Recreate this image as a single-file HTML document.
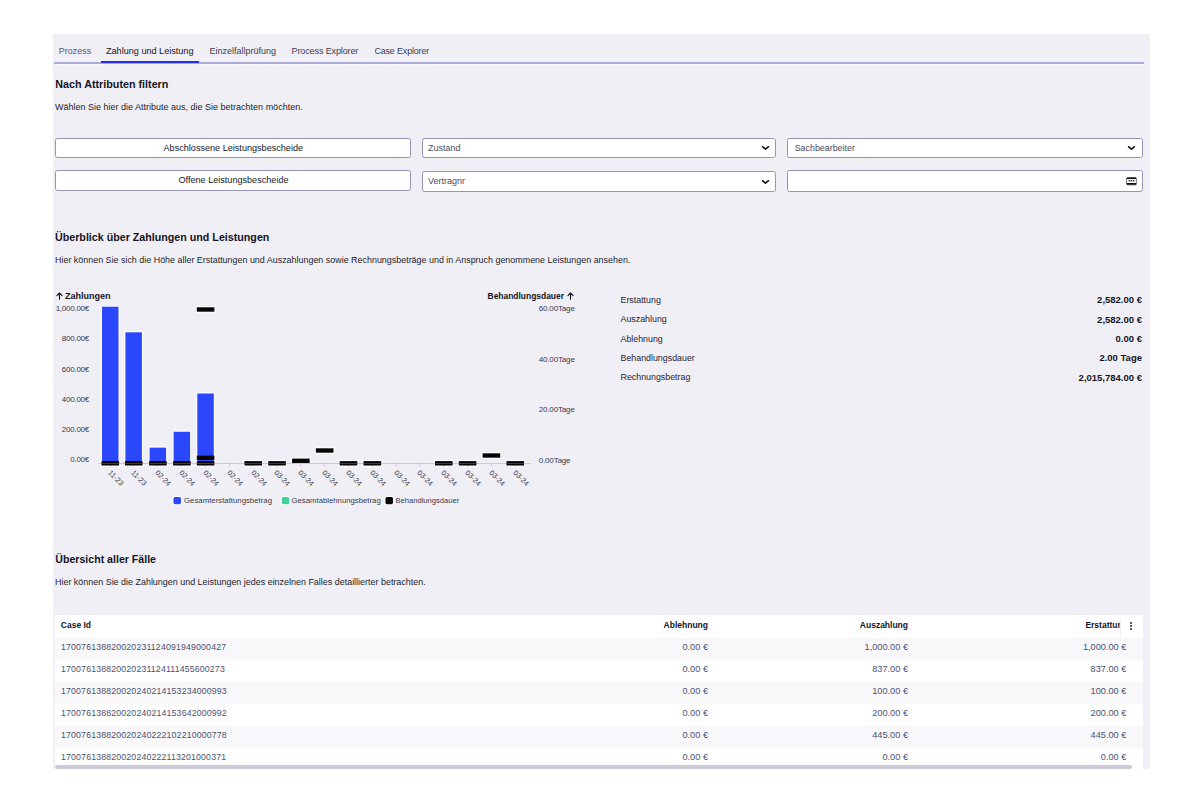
<!DOCTYPE html>
<html><head><meta charset="utf-8"><style>
html,body{margin:0;padding:0;background:#fff;width:1200px;height:800px;overflow:hidden;position:relative}
body{font-family:"Liberation Sans",sans-serif}
.t{position:absolute;line-height:1;white-space:nowrap}
</style></head><body>
<div style="position:absolute;left:52.5px;top:33.75px;width:1097px;height:735px;background:#f0eff5"></div>
<div class="t" style="left:58.70px;top:47.35px;font-size:9px;font-weight:400;color:#5a5a6c;">Prozess</div>
<div class="t" style="left:106.00px;top:47.27px;font-size:9.1px;font-weight:400;color:#14141f;">Zahlung und Leistung</div>
<div class="t" style="left:209.40px;top:47.35px;font-size:9px;font-weight:400;color:#3e3e50;">Einzelfallprüfung</div>
<div class="t" style="left:291.60px;top:47.35px;font-size:9px;font-weight:400;color:#3e3e50;letter-spacing:-0.12px;">Process Explorer</div>
<div class="t" style="left:374.40px;top:47.35px;font-size:9px;font-weight:400;color:#3e3e50;letter-spacing:-0.18px;">Case Explorer</div>
<div style="position:absolute;left:54px;top:62.2px;width:1090px;height:1.4px;background:#abacd3"></div>
<div style="position:absolute;left:54px;top:63.6px;width:1090px;height:0.9px;background:#f8f8fb"></div>
<div style="position:absolute;left:101px;top:60.8px;width:98.3px;height:2px;background:#1f2bf0"></div>
<div class="t" style="left:55.30px;top:78.86px;font-size:10.75px;font-weight:700;color:#14141f;">Nach Attributen filtern</div>
<div class="t" style="left:55.00px;top:103.05px;font-size:9px;font-weight:400;color:#1e1e2c;">Wählen Sie hier die Attribute aus, die Sie betrachten möchten.</div>
<div style="position:absolute;left:55px;top:138px;width:356px;height:20px;background:#fff;border:1.3px solid #9494b4;border-radius:2.5px;box-sizing:border-box"></div>
<div style="position:absolute;left:55px;top:170.3px;width:356px;height:20.4px;background:#fff;border:1.3px solid #9494b4;border-radius:2.5px;box-sizing:border-box"></div>
<div style="position:absolute;left:422px;top:138px;width:354px;height:20px;background:#fff;border:1.3px solid #9494b4;border-radius:2.5px;box-sizing:border-box"></div>
<div style="position:absolute;left:422px;top:171.3px;width:354px;height:20.5px;background:#fff;border:1.3px solid #9494b4;border-radius:2.5px;box-sizing:border-box"></div>
<div style="position:absolute;left:787px;top:138px;width:356px;height:20px;background:#fff;border:1.3px solid #9494b4;border-radius:2.5px;box-sizing:border-box"></div>
<div style="position:absolute;left:787px;top:170.2px;width:356px;height:21.8px;background:#fff;border:1.3px solid #9494b4;border-radius:2.5px;box-sizing:border-box"></div>
<div class="t" style="left:-66.70px;width:600px;text-align:center;top:143.67px;font-size:9.1px;font-weight:400;color:#16161f;">Abschlossene Leistungsbescheide</div>
<div class="t" style="left:-66.50px;width:600px;text-align:center;top:175.76px;font-size:9.1px;font-weight:400;color:#16161f;">Offene Leistungsbescheide</div>
<div class="t" style="left:428.00px;top:144.35px;font-size:9px;font-weight:400;color:#4a4a5c;">Zustand</div>
<div class="t" style="left:428.00px;top:176.85px;font-size:9px;font-weight:400;color:#4a4a5c;">Vertragnr</div>
<div class="t" style="left:794.70px;top:144.44px;font-size:8.9px;font-weight:400;color:#4a4a5c;">Sachbearbeiter</div>
<svg style="position:absolute;left:760.9px;top:145.4px" width="9" height="6" viewBox="0 0 9 6"><path d="M1.5 1.7 L4.5 4.2 L7.5 1.7" fill="none" stroke="#0d0d1a" stroke-width="1.5" stroke-linecap="round" stroke-linejoin="round"/></svg>
<svg style="position:absolute;left:1127.0px;top:145.4px" width="9" height="6" viewBox="0 0 9 6"><path d="M1.5 1.7 L4.5 4.2 L7.5 1.7" fill="none" stroke="#0d0d1a" stroke-width="1.5" stroke-linecap="round" stroke-linejoin="round"/></svg>
<svg style="position:absolute;left:760.9px;top:178.9px" width="9" height="6" viewBox="0 0 9 6"><path d="M1.5 1.7 L4.5 4.2 L7.5 1.7" fill="none" stroke="#0d0d1a" stroke-width="1.5" stroke-linecap="round" stroke-linejoin="round"/></svg>
<svg style="position:absolute;left:1126px;top:177px" width="11" height="9" viewBox="0 0 11 9"><rect x="0.6" y="0.7" width="9.8" height="7.2" rx="1.3" fill="none" stroke="#444" stroke-width="0.7"/><rect x="0.6" y="0.6" width="9.8" height="1.5" rx="0.6" fill="#111"/><rect x="2.6" y="3" width="1.5" height="1.4" fill="#333"/><rect x="4.75" y="3" width="1.5" height="1.4" fill="#333"/><rect x="6.9" y="3" width="1.5" height="1.4" fill="#333"/><rect x="0.6" y="6" width="9.8" height="1.7" rx="0.7" fill="#111"/></svg>
<div class="t" style="left:55.00px;top:232.31px;font-size:10.7px;font-weight:700;color:#14141f;">Überblick über Zahlungen und Leistungen</div>
<div class="t" style="left:55.00px;top:256.41px;font-size:8.93px;font-weight:400;color:#1e1e2c;">Hier können Sie sich die Höhe aller Erstattungen und Auszahlungen sowie Rechnungsbeträge und in Anspruch genommene Leistungen ansehen.</div>
<div class="t" style="left:65.00px;top:291.95px;font-size:9px;font-weight:700;color:#14141f;">Zahlungen</div>
<div class="t" style="right:636.00px;top:292.42px;font-size:8.45px;font-weight:700;color:#14141f;">Behandlungsdauer</div>
<svg style="position:absolute;left:56px;top:291.8px" width="7" height="8" viewBox="0 0 7 8"><path d="M3.5 7.3 V1.2 M0.9 3.6 L3.5 1 L6.1 3.6" fill="none" stroke="#14141f" stroke-width="1.1" stroke-linecap="round" stroke-linejoin="round"/></svg>
<svg style="position:absolute;left:566.8px;top:291.8px" width="7" height="8" viewBox="0 0 7 8"><path d="M3.5 7.3 V1.2 M0.9 3.6 L3.5 1 L6.1 3.6" fill="none" stroke="#14141f" stroke-width="1.1" stroke-linecap="round" stroke-linejoin="round"/></svg>
<div class="t" style="right:1111.00px;top:305.20px;font-size:8px;font-weight:400;color:#3a3a4c;letter-spacing:-0.25px;">1,000.00€</div>
<div class="t" style="right:1111.00px;top:335.45px;font-size:8px;font-weight:400;color:#3a3a4c;letter-spacing:-0.25px;">800.00€</div>
<div class="t" style="right:1111.00px;top:365.70px;font-size:8px;font-weight:400;color:#3a3a4c;letter-spacing:-0.25px;">600.00€</div>
<div class="t" style="right:1111.00px;top:395.95px;font-size:8px;font-weight:400;color:#3a3a4c;letter-spacing:-0.25px;">400.00€</div>
<div class="t" style="right:1111.00px;top:426.20px;font-size:8px;font-weight:400;color:#3a3a4c;letter-spacing:-0.25px;">200.00€</div>
<div class="t" style="right:1111.00px;top:456.45px;font-size:8px;font-weight:400;color:#3a3a4c;letter-spacing:-0.25px;">0.00€</div>
<div class="t" style="left:538.70px;top:305.20px;font-size:8px;font-weight:400;color:#3a3a4c;letter-spacing:-0.15px;">60.00Tage</div>
<div class="t" style="left:538.70px;top:355.70px;font-size:8px;font-weight:400;color:#3a3a4c;letter-spacing:-0.15px;">40.00Tage</div>
<div class="t" style="left:538.70px;top:406.20px;font-size:8px;font-weight:400;color:#3a3a4c;letter-spacing:-0.15px;">20.00Tage</div>
<div class="t" style="left:538.70px;top:456.70px;font-size:8px;font-weight:400;color:#3a3a4c;letter-spacing:-0.15px;">0.00Tage</div>
<svg style="position:absolute;left:0;top:0" width="1200" height="800" viewBox="0 0 1200 800">
<rect x="100.90" y="305.60" width="18.70" height="158.80" fill="#ffffff"/>
<rect x="124.30" y="331.20" width="18.70" height="133.20" fill="#ffffff"/>
<rect x="148.50" y="446.50" width="18.70" height="17.90" fill="#ffffff"/>
<rect x="172.50" y="430.65" width="18.70" height="33.75" fill="#ffffff"/>
<rect x="196.20" y="392.40" width="18.70" height="72.00" fill="#ffffff"/>
<rect x="100.40" y="460.00" width="19.80" height="6.60" fill="#ffffff"/>
<rect x="123.80" y="460.00" width="19.80" height="6.60" fill="#ffffff"/>
<rect x="148.00" y="460.00" width="19.80" height="6.60" fill="#ffffff"/>
<rect x="172.00" y="460.00" width="19.80" height="6.60" fill="#ffffff"/>
<rect x="195.70" y="306.20" width="19.80" height="6.60" fill="#ffffff"/>
<rect x="195.70" y="454.50" width="19.80" height="6.60" fill="#ffffff"/>
<rect x="195.70" y="460.00" width="19.80" height="6.60" fill="#ffffff"/>
<rect x="243.32" y="460.00" width="19.80" height="6.60" fill="#ffffff"/>
<rect x="267.14" y="460.00" width="19.80" height="6.60" fill="#ffffff"/>
<rect x="290.96" y="457.50" width="19.80" height="6.60" fill="#ffffff"/>
<rect x="314.78" y="447.20" width="19.80" height="6.60" fill="#ffffff"/>
<rect x="338.60" y="460.00" width="19.80" height="6.60" fill="#ffffff"/>
<rect x="362.42" y="460.00" width="19.80" height="6.60" fill="#ffffff"/>
<rect x="433.88" y="460.00" width="19.80" height="6.60" fill="#ffffff"/>
<rect x="457.70" y="460.00" width="19.80" height="6.60" fill="#ffffff"/>
<rect x="481.52" y="452.20" width="19.80" height="6.60" fill="#ffffff"/>
<rect x="505.34" y="460.00" width="19.80" height="6.60" fill="#ffffff"/>
<rect x="98.5" y="463" width="432.5" height="1" fill="#cacad8"/>
<rect x="109.75" y="463" width="1" height="3.5" fill="#cacad8"/>
<rect x="133.15" y="463" width="1" height="3.5" fill="#cacad8"/>
<rect x="157.35" y="463" width="1" height="3.5" fill="#cacad8"/>
<rect x="181.35" y="463" width="1" height="3.5" fill="#cacad8"/>
<rect x="205.05" y="463" width="1" height="3.5" fill="#cacad8"/>
<rect x="228.85" y="463" width="1" height="3.5" fill="#cacad8"/>
<rect x="252.67" y="463" width="1" height="3.5" fill="#cacad8"/>
<rect x="276.49" y="463" width="1" height="3.5" fill="#cacad8"/>
<rect x="300.31" y="463" width="1" height="3.5" fill="#cacad8"/>
<rect x="324.13" y="463" width="1" height="3.5" fill="#cacad8"/>
<rect x="347.95" y="463" width="1" height="3.5" fill="#cacad8"/>
<rect x="371.77" y="463" width="1" height="3.5" fill="#cacad8"/>
<rect x="395.59" y="463" width="1" height="3.5" fill="#cacad8"/>
<rect x="419.41" y="463" width="1" height="3.5" fill="#cacad8"/>
<rect x="443.23" y="463" width="1" height="3.5" fill="#cacad8"/>
<rect x="467.05" y="463" width="1" height="3.5" fill="#cacad8"/>
<rect x="490.87" y="463" width="1" height="3.5" fill="#cacad8"/>
<rect x="514.69" y="463" width="1" height="3.5" fill="#cacad8"/>
<rect x="102.00" y="306.70" width="16.50" height="156.60" fill="#2a47fb"/>
<rect x="125.40" y="332.30" width="16.50" height="131.00" fill="#2a47fb"/>
<rect x="149.60" y="447.60" width="16.50" height="15.70" fill="#2a47fb"/>
<rect x="173.60" y="431.75" width="16.50" height="31.55" fill="#2a47fb"/>
<rect x="197.30" y="393.50" width="16.50" height="69.80" fill="#2a47fb"/>
<rect x="101.50" y="461.10" width="17.60" height="4.40" fill="#050505"/>
<rect x="124.90" y="461.10" width="17.60" height="4.40" fill="#050505"/>
<rect x="149.10" y="461.10" width="17.60" height="4.40" fill="#050505"/>
<rect x="173.10" y="461.10" width="17.60" height="4.40" fill="#050505"/>
<rect x="196.80" y="307.30" width="17.60" height="4.40" fill="#050505"/>
<rect x="196.80" y="455.60" width="17.60" height="4.40" fill="#050505"/>
<rect x="196.80" y="461.10" width="17.60" height="4.40" fill="#050505"/>
<rect x="244.42" y="461.10" width="17.60" height="4.40" fill="#050505"/>
<rect x="268.24" y="461.10" width="17.60" height="4.40" fill="#050505"/>
<rect x="292.06" y="458.60" width="17.60" height="4.40" fill="#050505"/>
<rect x="315.88" y="448.30" width="17.60" height="4.40" fill="#050505"/>
<rect x="339.70" y="461.10" width="17.60" height="4.40" fill="#050505"/>
<rect x="363.52" y="461.10" width="17.60" height="4.40" fill="#050505"/>
<rect x="434.98" y="461.10" width="17.60" height="4.40" fill="#050505"/>
<rect x="458.80" y="461.10" width="17.60" height="4.40" fill="#050505"/>
<rect x="482.62" y="453.30" width="17.60" height="4.40" fill="#050505"/>
<rect x="506.44" y="461.10" width="17.60" height="4.40" fill="#050505"/>
<rect x="101.50" y="463.1" width="17.60" height="0.9" fill="#6a6a78" opacity="0.6"/>
<rect x="124.90" y="463.1" width="17.60" height="0.9" fill="#6a6a78" opacity="0.6"/>
<rect x="149.10" y="463.1" width="17.60" height="0.9" fill="#6a6a78" opacity="0.6"/>
<rect x="173.10" y="463.1" width="17.60" height="0.9" fill="#6a6a78" opacity="0.6"/>
<rect x="196.80" y="463.1" width="17.60" height="0.9" fill="#6a6a78" opacity="0.6"/>
<rect x="244.42" y="463.1" width="17.60" height="0.9" fill="#6a6a78" opacity="0.6"/>
<rect x="268.24" y="463.1" width="17.60" height="0.9" fill="#6a6a78" opacity="0.6"/>
<rect x="339.70" y="463.1" width="17.60" height="0.9" fill="#6a6a78" opacity="0.6"/>
<rect x="363.52" y="463.1" width="17.60" height="0.9" fill="#6a6a78" opacity="0.6"/>
<rect x="434.98" y="463.1" width="17.60" height="0.9" fill="#6a6a78" opacity="0.6"/>
<rect x="458.80" y="463.1" width="17.60" height="0.9" fill="#6a6a78" opacity="0.6"/>
<rect x="506.44" y="463.1" width="17.60" height="0.9" fill="#6a6a78" opacity="0.6"/>
<rect x="172.4" y="495.9" width="9.7" height="9.4" rx="2.4" fill="#fff" opacity="0.9"/>
<rect x="280.65" y="495.9" width="9.7" height="9.4" rx="2.4" fill="#fff" opacity="0.9"/>
<rect x="384.4" y="495.9" width="9.7" height="9.4" rx="2.4" fill="#fff" opacity="0.9"/>
<rect x="173.5" y="497" width="7.5" height="7.2" rx="1.6" fill="#2a47fb"/>
<rect x="281.75" y="497" width="7.5" height="7.2" rx="1.6" fill="#3fd39a"/>
<rect x="385.5" y="497" width="7.5" height="7.2" rx="1.6" fill="#050505"/>
</svg>
<div class="t" style="left:111.75px;top:468.8px;font-size:7.3px;color:#3a3a4c;transform-origin:0 0;transform:rotate(45deg)">11-23</div>
<div class="t" style="left:135.15px;top:468.8px;font-size:7.3px;color:#3a3a4c;transform-origin:0 0;transform:rotate(45deg)">11-23</div>
<div class="t" style="left:159.35px;top:468.8px;font-size:7.3px;color:#3a3a4c;transform-origin:0 0;transform:rotate(45deg)">02-24</div>
<div class="t" style="left:183.35px;top:468.8px;font-size:7.3px;color:#3a3a4c;transform-origin:0 0;transform:rotate(45deg)">02-24</div>
<div class="t" style="left:207.05px;top:468.8px;font-size:7.3px;color:#3a3a4c;transform-origin:0 0;transform:rotate(45deg)">02-24</div>
<div class="t" style="left:230.85px;top:468.8px;font-size:7.3px;color:#3a3a4c;transform-origin:0 0;transform:rotate(45deg)">02-24</div>
<div class="t" style="left:254.67px;top:468.8px;font-size:7.3px;color:#3a3a4c;transform-origin:0 0;transform:rotate(45deg)">02-24</div>
<div class="t" style="left:278.49px;top:468.8px;font-size:7.3px;color:#3a3a4c;transform-origin:0 0;transform:rotate(45deg)">03-24</div>
<div class="t" style="left:302.31px;top:468.8px;font-size:7.3px;color:#3a3a4c;transform-origin:0 0;transform:rotate(45deg)">03-24</div>
<div class="t" style="left:326.13px;top:468.8px;font-size:7.3px;color:#3a3a4c;transform-origin:0 0;transform:rotate(45deg)">03-24</div>
<div class="t" style="left:349.95px;top:468.8px;font-size:7.3px;color:#3a3a4c;transform-origin:0 0;transform:rotate(45deg)">03-24</div>
<div class="t" style="left:373.77px;top:468.8px;font-size:7.3px;color:#3a3a4c;transform-origin:0 0;transform:rotate(45deg)">03-24</div>
<div class="t" style="left:397.59px;top:468.8px;font-size:7.3px;color:#3a3a4c;transform-origin:0 0;transform:rotate(45deg)">03-24</div>
<div class="t" style="left:421.41px;top:468.8px;font-size:7.3px;color:#3a3a4c;transform-origin:0 0;transform:rotate(45deg)">03-24</div>
<div class="t" style="left:445.23px;top:468.8px;font-size:7.3px;color:#3a3a4c;transform-origin:0 0;transform:rotate(45deg)">03-24</div>
<div class="t" style="left:469.05px;top:468.8px;font-size:7.3px;color:#3a3a4c;transform-origin:0 0;transform:rotate(45deg)">03-24</div>
<div class="t" style="left:492.87px;top:468.8px;font-size:7.3px;color:#3a3a4c;transform-origin:0 0;transform:rotate(45deg)">03-24</div>
<div class="t" style="left:516.69px;top:468.8px;font-size:7.3px;color:#3a3a4c;transform-origin:0 0;transform:rotate(45deg)">03-24</div>
<div class="t" style="left:184.00px;top:496.67px;font-size:7.8px;font-weight:400;color:#3a3a4c;">Gesamterstattungsbetrag</div>
<div class="t" style="left:291.50px;top:496.71px;font-size:7.75px;font-weight:400;color:#3a3a4c;">Gesamtablehnungsbetrag</div>
<div class="t" style="left:395.50px;top:496.84px;font-size:7.6px;font-weight:400;color:#3a3a4c;">Behandlungsdauer</div>
<div class="t" style="left:620.50px;top:295.78px;font-size:8.85px;font-weight:400;color:#262636;">Erstattung</div>
<div class="t" style="right:58.00px;top:295.23px;font-size:9.5px;font-weight:700;color:#14141f;">2,582.00 €</div>
<div class="t" style="left:620.50px;top:315.15px;font-size:8.85px;font-weight:400;color:#262636;">Auszahlung</div>
<div class="t" style="right:58.00px;top:314.60px;font-size:9.5px;font-weight:700;color:#14141f;">2,582.00 €</div>
<div class="t" style="left:620.50px;top:334.52px;font-size:8.85px;font-weight:400;color:#262636;">Ablehnung</div>
<div class="t" style="right:58.00px;top:333.97px;font-size:9.5px;font-weight:700;color:#14141f;">0.00 €</div>
<div class="t" style="left:620.50px;top:353.89px;font-size:8.85px;font-weight:400;color:#262636;">Behandlungsdauer</div>
<div class="t" style="right:58.00px;top:353.34px;font-size:9.5px;font-weight:700;color:#14141f;">2.00 Tage</div>
<div class="t" style="left:620.50px;top:373.26px;font-size:8.85px;font-weight:400;color:#262636;">Rechnungsbetrag</div>
<div class="t" style="right:58.00px;top:372.71px;font-size:9.5px;font-weight:700;color:#14141f;">2,015,784.00 €</div>
<div class="t" style="left:55.30px;top:553.99px;font-size:10.6px;font-weight:700;color:#14141f;">Übersicht aller Fälle</div>
<div class="t" style="left:55.00px;top:577.69px;font-size:8.95px;font-weight:400;color:#1e1e2c;">Hier können Sie die Zahlungen und Leistungen jedes einzelnen Falles detaillierter betrachten.</div>
<div style="position:absolute;left:55px;top:615.3px;width:1088px;height:153.45px;overflow:hidden;background:#fff">
<div style="position:absolute;left:0;top:22.50px;width:1088px;height:22px;background:#f8f8fb"></div>
<div style="position:absolute;left:0;top:44.50px;width:1088px;height:22px;background:#ffffff"></div>
<div style="position:absolute;left:0;top:66.50px;width:1088px;height:22px;background:#f8f8fb"></div>
<div style="position:absolute;left:0;top:88.50px;width:1088px;height:22px;background:#ffffff"></div>
<div style="position:absolute;left:0;top:110.50px;width:1088px;height:22px;background:#f8f8fb"></div>
<div style="position:absolute;left:0;top:132.50px;width:1088px;height:22px;background:#ffffff"></div>
</div>
<div class="t" style="left:60.80px;top:620.77px;font-size:8.5px;font-weight:700;color:#15151f;">Case Id</div>
<div class="t" style="right:492.00px;top:620.77px;font-size:8.5px;font-weight:700;color:#15151f;">Ablehnung</div>
<div class="t" style="right:292.00px;top:620.77px;font-size:8.5px;font-weight:700;color:#15151f;">Auszahlung</div>
<div class="t" style="left:1085.4px;top:620.77px;font-size:8.5px;font-weight:700;color:#15151f;width:35.6px;overflow:hidden">Erstattung</div>
<div style="position:absolute;left:1120px;top:617.5px;width:1px;height:19px;background:#ececf2"></div>
<div style="position:absolute;left:1130.3px;top:621.9px;width:2px;height:2px;background:#202038;border-radius:50%"></div>
<div style="position:absolute;left:1130.3px;top:624.9499999999999px;width:2px;height:2px;background:#202038;border-radius:50%"></div>
<div style="position:absolute;left:1130.3px;top:628.0px;width:2px;height:2px;background:#202038;border-radius:50%"></div>
<div class="t" style="left:61.00px;top:642.86px;font-size:8.75px;font-weight:400;color:#4b5170;letter-spacing:0.16px;">170076138820020231124091949000427</div>
<div class="t" style="right:492.00px;top:643.38px;font-size:9.2px;font-weight:400;color:#4b5170;">0.00 €</div>
<div class="t" style="right:292.00px;top:643.38px;font-size:9.2px;font-weight:400;color:#4b5170;">1,000.00 €</div>
<div class="t" style="right:73.70px;top:643.38px;font-size:9.2px;font-weight:400;color:#4b5170;">1,000.00 €</div>
<div class="t" style="left:61.00px;top:664.86px;font-size:8.75px;font-weight:400;color:#4b5170;letter-spacing:0.16px;">170076138820020231124111455600273</div>
<div class="t" style="right:492.00px;top:665.38px;font-size:9.2px;font-weight:400;color:#4b5170;">0.00 €</div>
<div class="t" style="right:292.00px;top:665.38px;font-size:9.2px;font-weight:400;color:#4b5170;">837.00 €</div>
<div class="t" style="right:73.70px;top:665.38px;font-size:9.2px;font-weight:400;color:#4b5170;">837.00 €</div>
<div class="t" style="left:61.00px;top:686.86px;font-size:8.75px;font-weight:400;color:#4b5170;letter-spacing:0.16px;">170076138820020240214153234000993</div>
<div class="t" style="right:492.00px;top:687.38px;font-size:9.2px;font-weight:400;color:#4b5170;">0.00 €</div>
<div class="t" style="right:292.00px;top:687.38px;font-size:9.2px;font-weight:400;color:#4b5170;">100.00 €</div>
<div class="t" style="right:73.70px;top:687.38px;font-size:9.2px;font-weight:400;color:#4b5170;">100.00 €</div>
<div class="t" style="left:61.00px;top:708.86px;font-size:8.75px;font-weight:400;color:#4b5170;letter-spacing:0.16px;">170076138820020240214153642000992</div>
<div class="t" style="right:492.00px;top:709.38px;font-size:9.2px;font-weight:400;color:#4b5170;">0.00 €</div>
<div class="t" style="right:292.00px;top:709.38px;font-size:9.2px;font-weight:400;color:#4b5170;">200.00 €</div>
<div class="t" style="right:73.70px;top:709.38px;font-size:9.2px;font-weight:400;color:#4b5170;">200.00 €</div>
<div class="t" style="left:61.00px;top:730.86px;font-size:8.75px;font-weight:400;color:#4b5170;letter-spacing:0.16px;">170076138820020240222102210000778</div>
<div class="t" style="right:492.00px;top:731.38px;font-size:9.2px;font-weight:400;color:#4b5170;">0.00 €</div>
<div class="t" style="right:292.00px;top:731.38px;font-size:9.2px;font-weight:400;color:#4b5170;">445.00 €</div>
<div class="t" style="right:73.70px;top:731.38px;font-size:9.2px;font-weight:400;color:#4b5170;">445.00 €</div>
<div class="t" style="left:61.00px;top:752.86px;font-size:8.75px;font-weight:400;color:#4b5170;letter-spacing:0.16px;">170076138820020240222113201000371</div>
<div class="t" style="right:492.00px;top:753.38px;font-size:9.2px;font-weight:400;color:#4b5170;">0.00 €</div>
<div class="t" style="right:292.00px;top:753.38px;font-size:9.2px;font-weight:400;color:#4b5170;">0.00 €</div>
<div class="t" style="right:73.70px;top:753.38px;font-size:9.2px;font-weight:400;color:#4b5170;">0.00 €</div>
<div style="position:absolute;left:55.25px;top:765px;width:1077px;height:3.75px;background:#cbcbd7;border-radius:2px"></div>
</body></html>
